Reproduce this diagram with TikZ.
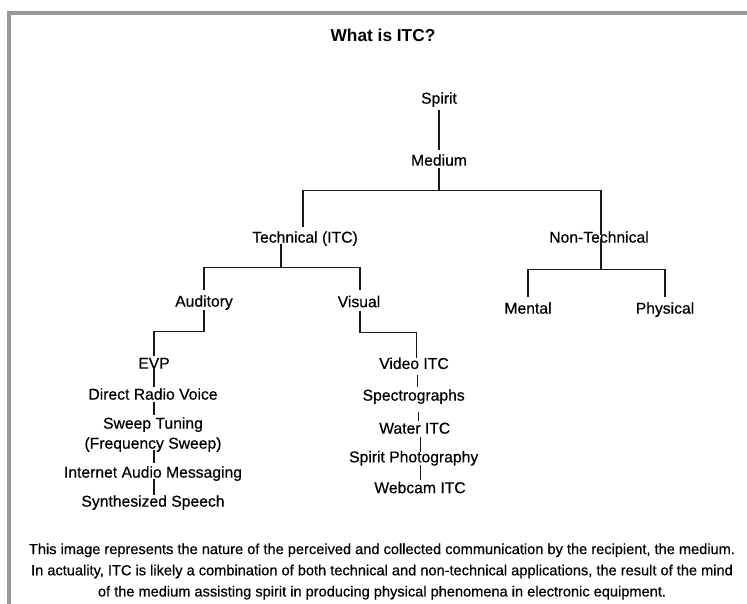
\documentclass[tikz,border=0pt]{standalone}
\usepackage{fontspec}
\setmainfont{Liberation Sans}
\newfontfamily\labfont{Liberation Sans}[FakeBold=0.45]
\begin{document}
\begin{tikzpicture}[x=1pt,y=-1pt,
  lab/.style={font=\labfont\fontsize{15.7}{20}\selectfont, inner sep=0pt, text height=11.3pt, text depth=0pt},
  labml/.style={font=\labfont\fontsize{15.7}{20}\selectfont, inner sep=0pt, align=center},
  foot/.style={font=\labfont\fontsize{14.6}{21.2}\selectfont, inner sep=0pt, align=center},
  conn/.style={draw=black!90, line width=1.3pt}]
\useasboundingbox (0,0) rectangle (747,604);
\fill[white] (0,0) rectangle (747,604);
\fill[black!40] (7,11) rectangle (747,15);
\fill[black!40] (7,11) rectangle (11,604);

\node[font=\fontsize{17.3}{20}\selectfont\bfseries, inner sep=0pt] (title) at (383,35) {What is ITC?};

\node[lab] (spirit) at (439,98) {Spirit};
\node[lab] (medium) at (439,160) {Medium};
\node[lab] (tech) at (305,237) {Technical (ITC)};
\node[lab] (nontech) at (599,237) {Non-Technical};
\node[lab] (aud) at (204,301) {Auditory};
\node[lab] (vis) at (359,301.5) {Visual};
\node[lab] (mental) at (528,308) {Mental};
\node[lab] (phys) at (665,308) {Physical};
\node[lab] (evp) at (154,363) {EVP};
\node[lab] (drv) at (153,394) {Direct Radio Voice};
\node[labml] (sweep) at (153,434.6) {Sweep Tuning\\(Frequency Sweep)};
\node[lab] (inet) at (153,472) {Internet Audio Messaging};
\node[lab] (synth) at (153,501) {Synthesized Speech};
\node[lab] (video) at (414,363.3) {Video ITC};
\node[lab] (spectro) at (413.7,395) {Spectrographs};
\node[lab] (water) at (414.7,428) {Water ITC};
\node[lab] (sphoto) at (413.7,456.7) {Spirit Photography};
\node[lab] (webcam) at (420,487.5) {Webcam ITC};

\node[foot] (foot) at (382,571.5) {This image represents the nature of the perceived and collected communication by the recipient, the medium.\\In actuality, ITC is likely a combination of both technical and non-technical applications, the result of the mind\\of the medium assisting spirit in producing physical phenomena in electronic equipment.};

\draw[conn] ([shift={(0,6.4)}]spirit.south) -- ([shift={(0,-4.4)}]medium.north);
\draw[conn] ([shift={(0,2.4)}]medium.south) -- ++(0,22) -| ([shift={(-2,-4)}]tech.north);
\draw[conn] ([shift={(0,2.4)}]medium.south) -- ++(0,22) -| ([shift={(2,4)}]nontech.north);
\draw[conn] ([shift={(2,-4)}]nontech.south) -- ++(0,30.4) -| ([shift={(0,-5)}]mental.north);
\draw[conn] ([shift={(2,-4)}]nontech.south) -- ++(0,30.4) -| ([shift={(0,-5)}]phys.north);
\draw[conn] ([shift={(-24,0.7)}]tech.south) -- ++(0,23.7) -| ([shift={(0,-5.4)}]aud.north);
\draw[conn] ([shift={(-24,0.7)}]tech.south) -- ++(0,23.7) -| ([shift={(1,-5.4)}]vis.north);
\draw[conn] ([shift={(0,3.4)}]aud.south) -- ++(0,21) -| ([shift={(0,-1)}]evp.north);
\draw[conn] ([shift={(1,3.4)}]vis.south) -- ++(0,21.7) -| ([shift={(2.7,1)}]video.north);
\draw[conn] ([shift={(0,-0.6)}]evp.south) -- ([shift={(1,-1.4)}]drv.north);
\draw[conn] ([shift={(1,2.4)}]drv.south) -- ([shift={(1,-2.3)}]sweep.north);
\draw[conn] ([shift={(1,-1.9)}]sweep.south) -- ([shift={(1,-3.4)}]inet.north);
\draw[conn] ([shift={(1,1.4)}]inet.south) -- ([shift={(1,0)}]synth.north);
\draw[conn] ([shift={(3.7,6)}]video.south) -- ([shift={(4,-2.5)}]spectro.north);
\draw[conn] ([shift={(4.6,11)}]spectro.south) -- ([shift={(3.6,-1)}]water.north);
\draw[conn] ([shift={(6,3.5)}]water.south) -- ([shift={(7,1.5)}]sphoto.north);
\draw[conn] ([shift={(7,2.5)}]sphoto.south) -- ([shift={(0.7,-1.5)}]webcam.north);
\end{tikzpicture}
\end{document}
